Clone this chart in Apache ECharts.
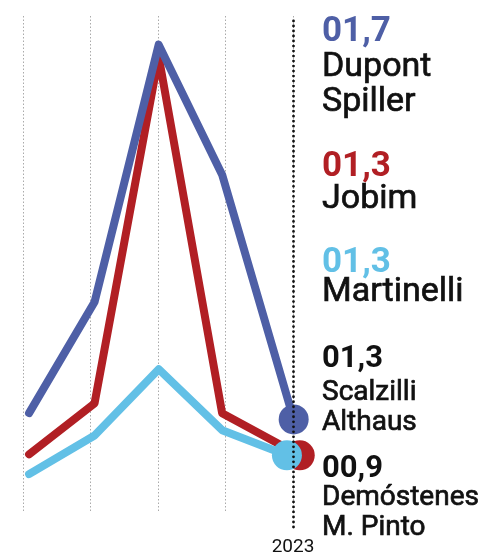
<!DOCTYPE html>
<html>
<head>
<meta charset="utf-8">
<script src="https://cdn.jsdelivr.net/npm/echarts@6/dist/echarts.min.js"></script>
<style>html,body{margin:0;padding:0;background:#fff;}#c{width:486px;height:557px;}</style>
</head>
<body>
<div id="c"></div>
<script>
// ---- data ----
const xPositions = [0.09, 1.06, 2.01, 2.95];       // first four time points
const tickLabels = ['', '', '', '', '2023'];
const seriesNames = ['Dupont Spiller', 'Jobim', 'Martinelli'];
const dupontValues = [1.77, 3.01, 5.88, 4.43, 1.70];
const jobimValues = [1.31, 1.88, 5.75, 1.77, 1.30];
const martinelliValues = [1.09, 1.52, 2.26, 1.58, 1.30];
const endX = [4.01, 4.10, 3.91];                    // final points (2023)
const labelValues = ['01,7', '01,3', '01,3', '01,3', '00,9'];
const labelNames = [['Dupont', 'Spiller'], ['Jobim'], ['Martinelli'], ['Scalzilli', 'Althaus'], ['Demóstenes', 'M. Pinto']];

// ---- styles ----
const colors = ['#4e5fa6', '#b11f24', '#62c0e6'];
const labelColors = ['#4e5fa6', '#b11f24', '#62c0e6', '#111', '#111'];
const FONT = 'Roboto, "Noto Sans", sans-serif';

function mkData(vals, ex) {
  return vals.map((v, i) => [i < 4 ? xPositions[i] : ex, v]);
}
const allVals = [dupontValues, jobimValues, martinelliValues];
const zOrder = [3, 2, 4];

const series = allVals.map((vals, k) => ({
  name: seriesNames[k],
  type: 'line',
  xAxisIndex: 0, yAxisIndex: 0,
  data: mkData(vals, endX[k]),
  clip: false,
  z: zOrder[k],
  symbol: 'circle',
  showSymbol: true,
  symbolSize: (v, p) => p.dataIndex === vals.length - 1 ? 30 : 0,
  itemStyle: { color: colors[k] },
  lineStyle: { color: colors[k], width: 8, cap: 'round', join: 'round' },
  emphasis: { disabled: true },
  silent: true
}));
// black dotted 2023 line
series.push({
  type: 'line', xAxisIndex: 0, yAxisIndex: 0, data: [], z: 1,
  markLine: {
    silent: true, symbol: ['none', 'none'], label: { show: false },
    lineStyle: { color: '#111', type: [0.01, 5], width: 2.8, cap: 'round' },
    data: [{ xAxis: 4 }]
  }
});

// right-hand labels (y = cap-height centre of each line)
const groups = [
  { numSize: 35, size: 34, ys: [32, 67, 102] },
  { numSize: 35, size: 34, ys: [167, 199] },
  { numSize: 35, size: 34, ys: [263, 292] },
  { numSize: 31, size: 28, ys: [359, 393, 423] },
  { numSize: 31, size: 28, ys: [469, 498, 528] }
];
const graphics = [];
groups.forEach((g, i) => {
  const lines = [labelValues[i]].concat(labelNames[i]);
  lines.forEach((t, j) => {
    const isNum = j === 0;
    graphics.push({
      type: 'text', x: 322, y: g.ys[j], z: 10,
      style: {
        text: t,
        fill: isNum ? labelColors[i] : '#111',
        stroke: isNum ? null : '#111',
        lineWidth: isNum ? 0 : 0.7,
        font: (isNum ? 'bold ' + g.numSize : 'normal ' + g.size) + 'px ' + FONT,
        verticalAlign: 'middle', align: 'left'
      }
    });
  });
});

const chart = echarts.init(document.getElementById('c'), null, { renderer: 'canvas' });
chart.setOption({
  animation: false,
  backgroundColor: '#fff',
  grid: [
    { left: 23, right: 193, top: 16, bottom: 30 },
    { left: 23, right: 193, top: 16, bottom: 44 }
  ],
  xAxis: [
    {
      type: 'value', gridIndex: 0, min: 0, max: 4, interval: 1,
      axisLine: { show: false }, axisTick: { show: false }, splitLine: { show: false },
      axisLabel: {
        margin: 11, color: '#111', fontSize: 19, fontFamily: FONT,
        formatter: v => tickLabels[Math.round(v)] || ''
      }
    },
    {
      type: 'value', gridIndex: 1, min: 0, max: 4, interval: 1,
      axisLine: { show: false }, axisTick: { show: false }, axisLabel: { show: false },
      splitLine: { show: true, lineStyle: { color: '#aaa', type: [1.5, 2], width: 1 } }
    }
  ],
  yAxis: [
    { type: 'value', gridIndex: 0, min: 0.5, max: 6.2, show: false },
    { type: 'value', gridIndex: 1, min: 0, max: 1, show: false }
  ],
  series: series,
  graphic: graphics
});
</script>
</body>
</html>
